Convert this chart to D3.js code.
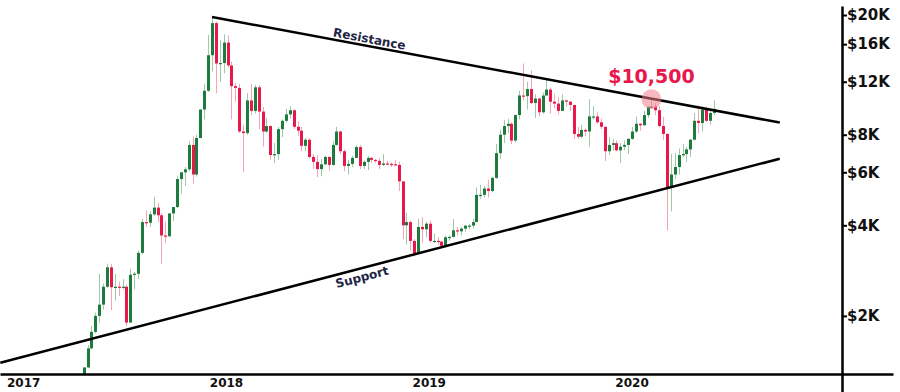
<!DOCTYPE html>
<html>
<head>
<meta charset="utf-8">
<script src="https://cdn.jsdelivr.net/npm/d3@7"></script>
<style>
  body { margin: 0; background: #fff; }
  svg { display: block; font-family: "DejaVu Sans", sans-serif; }
</style>
</head>
<body>
<svg id="chart" width="900" height="392"></svg>
<script>
// weekly candles, one row per week starting on monday: [open, high, low, close]
const firstWeek = new Date(Date.UTC(2017, 3, 24));

const ohlc2017 = [
  [1250, 1350, 1240, 1348], [1348, 1600, 1340, 1560], [1560, 1850, 1550, 1770], [1770, 2050, 1750, 2000],
  [2000, 2760, 1900, 2180], [2180, 2560, 2100, 2500], [2500, 2980, 2480, 2900], [2900, 2980, 2090, 2490],
  [2490, 2760, 2250, 2500], [2500, 2600, 2330, 2480], [2480, 2650, 2450, 2500], [2500, 2540, 1850, 1900],
  [1900, 2870, 1900, 2740], [2740, 2800, 2450, 2760], [2760, 3300, 2650, 3240], [3240, 4200, 3200, 4100],
  [4100, 4480, 3950, 4080], [4080, 4460, 3950, 4350], [4350, 4980, 4300, 4580], [4580, 4750, 4100, 4320],
  [4320, 4400, 2980, 3700], [3700, 4120, 3500, 3680], [3680, 4380, 3650, 4380], [4380, 4600, 4130, 4600],
  [4600, 5860, 4560, 5700], [5700, 6000, 5100, 6000], [6000, 6250, 5400, 6140], [6140, 7600, 6050, 7400],
  [7400, 7890, 5500, 5900], [5900, 8000, 5800, 7800], [7800, 9740, 7800, 9700], [9700, 11800, 9000, 11200],
  [11200, 17170, 11100, 14700], [14700, 19666, 13000, 18800], [18800, 19000, 11000, 13800], [13800, 16500, 12000, 13850]
];

const ohlc2018 = [
  [13850, 17250, 12800, 16200], [16200, 17100, 13400, 13600], [13600, 14000, 9000, 11600], [11600, 11900, 10300, 11450],
  [11450, 11800, 8100, 8200], [8200, 8600, 6000, 8100], [8100, 11000, 8000, 10400], [10400, 11800, 9300, 9600],
  [9600, 11700, 9400, 11500], [11500, 11700, 8350, 9550], [9550, 9900, 7300, 8200], [8200, 9100, 8100, 8550],
  [8550, 8600, 6600, 6850], [6850, 7500, 6450, 6900], [6900, 8500, 6600, 8350], [8350, 9000, 7850, 8900],
  [8900, 9750, 8800, 9350], [9350, 9950, 9050, 9650], [9650, 9700, 8350, 8500], [8500, 8850, 7950, 8250],
  [8250, 8500, 7050, 7350], [7350, 7800, 7050, 7700], [7700, 7780, 6650, 6750], [6750, 6900, 6150, 6500],
  [6500, 6850, 5780, 6150], [6150, 6650, 5820, 6380], [6380, 6830, 6350, 6750], [6750, 6780, 6070, 6350],
  [6350, 7600, 6300, 7400], [7400, 8500, 7350, 8200], [8200, 8250, 6900, 7050], [7050, 7150, 6050, 6300],
  [6300, 6600, 5900, 6400], [6400, 6800, 6250, 6700], [6700, 7400, 6700, 7280], [7280, 7400, 6150, 6300],
  [6300, 6580, 6150, 6500], [6500, 6800, 6100, 6700], [6700, 6750, 6450, 6600], [6600, 6650, 6450, 6550],
  [6550, 6700, 6150, 6350], [6350, 6900, 6300, 6420], [6420, 6550, 6350, 6400], [6400, 6480, 6250, 6380],
  [6380, 6600, 6350, 6350], [6350, 6500, 5200, 5600], [5600, 5600, 3600, 4000], [4000, 4400, 3450, 4100],
  [4100, 4150, 3300, 3550], [3550, 3600, 3150, 3220], [3220, 4200, 3200, 3950], [3950, 4250, 3500, 3880],
  [3880, 4100, 3650, 4050]
];

const ohlc2019 = [
  [4050, 4150, 3500, 3550], [3550, 3750, 3500, 3550], [3550, 3650, 3450, 3530], [3530, 3550, 3350, 3420],
  [3420, 3700, 3380, 3650], [3650, 3700, 3550, 3660], [3660, 4200, 3650, 3850], [3850, 3950, 3700, 3820],
  [3820, 3950, 3700, 3900], [3900, 4000, 3800, 3990], [3990, 4050, 3880, 3990], [3990, 4200, 3900, 4100],
  [4100, 5350, 4100, 5050], [5050, 5450, 4900, 5050], [5050, 5400, 4950, 5300], [5300, 5650, 4950, 5200],
  [5200, 5800, 5150, 5750], [5750, 7450, 5700, 6950], [6950, 8300, 6650, 8000], [8000, 8950, 7500, 8550],
  [8550, 9050, 8100, 8700], [8700, 8800, 7450, 7650], [7650, 9350, 7550, 9300], [9300, 11200, 9000, 10800],
  [10800, 13800, 10400, 10750], [10750, 12000, 9700, 11350], [11350, 13100, 10100, 10200], [10200, 10900, 9100, 10550],
  [10550, 10650, 9200, 9500], [9500, 11050, 9400, 10800], [10800, 12300, 10800, 11300], [11300, 11500, 9400, 10300],
  [10300, 10950, 9800, 10150], [10150, 10650, 9350, 9600], [9600, 10900, 9600, 10400], [10400, 10450, 9900, 10300],
  [10300, 10350, 9600, 10050], [10050, 10050, 7750, 8050], [8050, 8500, 7750, 7880], [7880, 8650, 7800, 8300],
  [8300, 8400, 7900, 8200], [8200, 10500, 7300, 9200], [9200, 9950, 9000, 9200], [9200, 9500, 8700, 8800],
  [8800, 9050, 8350, 8500], [8500, 8500, 6550, 7050], [7050, 7850, 6850, 7400], [7400, 7750, 7100, 7500],
  [7500, 7650, 7050, 7100], [7100, 7500, 6450, 7300], [7300, 7650, 7100, 7400], [7400, 7800, 6900, 7750]
];

const ohlc2020 = [
  [7750, 8500, 7700, 8200], [8200, 9200, 8100, 8700], [8700, 8750, 8250, 8600], [8600, 9600, 8550, 9300],
  [9300, 9950, 9100, 9900], [9900, 10500, 9800, 9920], [9920, 10200, 9300, 9650], [9650, 9950, 8450, 8550],
  [8550, 9180, 7700, 8050], [8050, 8100, 3850, 5350], [5350, 6900, 4450, 5900], [5900, 6950, 5700, 6250],
  [6250, 7200, 5900, 6850], [6850, 7450, 6750, 6900], [6900, 7300, 6500, 7150], [7150, 7750, 6750, 7700],
  [7700, 9450, 7650, 8900], [8900, 10000, 8100, 8750], [8750, 9950, 8200, 9700], [9700, 9900, 8800, 8900],
  [8900, 9750, 8650, 9450], [9450, 10400, 9300, 9750]
];

const priceTicks = [2000, 4000, 6000, 8000, 12000, 16000, 20000];
const yearTicks = [2017, 2018, 2019, 2020];

// trend lines as [date, price] end points
const resistance = [[Date.UTC(2017, 11, 14), 19700], [Date.UTC(2020, 9, 1), 8780]];
const support = [[Date.UTC(2016, 10, 28), 1397], [Date.UTC(2020, 9, 1), 6660]];
const resistanceLabelDate = Date.UTC(2018, 8, 21);
const supportLabelDate = Date.UTC(2018, 8, 6);

const touch = { date: Date.UTC(2020, 1, 13), price: 10500, label: "$10,500" };

const green = "#1e7b3e", greenWick = "#9ccaa7";
const red = "#e8184c", redWick = "#f5a3b6";
const ink = "#1f2544";

const candles = [].concat(ohlc2017, ohlc2018, ohlc2019, ohlc2020).map((d, i) => ({
  date: d3.utcDay.offset(d3.utcMonday.offset(firstWeek, i), 3),
  open: d[0], high: d[1], low: d[2], close: d[3]
}));

const svg = d3.select("#chart");

const x = d3.scaleUtc()
  .domain([Date.UTC(2017, 11, 14), Date.UTC(2020, 2, 12)])
  .range([212, 667]);

const y = d3.scaleLog()
  .domain([1282, 20000])
  .range([374, 15]);

svg.append("clipPath").attr("id", "plot-clip")
  .append("rect").attr("x", 0).attr("y", 0).attr("width", 842).attr("height", 374);

const plot = svg.append("g").attr("clip-path", "url(#plot-clip)");

const candle = plot.selectAll("g.candle")
  .data(candles)
  .join("g")
  .attr("class", "candle");

candle.append("line")
  .attr("x1", d => Math.round(x(d.date)) + 0.5)
  .attr("x2", d => Math.round(x(d.date)) + 0.5)
  .attr("y1", d => y(d.high))
  .attr("y2", d => y(d.low))
  .attr("stroke", d => d.close >= d.open ? greenWick : redWick)
  .attr("stroke-width", 1);

candle.append("rect")
  .attr("x", d => Math.round(x(d.date)) - 1)
  .attr("width", 3)
  .attr("y", d => y(Math.max(d.open, d.close)))
  .attr("height", d => Math.max(1.2, Math.abs(y(d.open) - y(d.close))))
  .attr("fill", d => d.close >= d.open ? green : red);

// trend lines
const line = d3.line().x(d => x(d[0])).y(d => y(d[1]));

[resistance, support].forEach(pts => {
  plot.append("path")
    .attr("d", line(pts))
    .attr("fill", "none")
    .attr("stroke", "#000")
    .attr("stroke-width", 2.5);
});

function onLine(pts, date) {
  const x0 = x(pts[0][0]), x1 = x(pts[1][0]);
  const y0 = y(pts[0][1]), y1 = y(pts[1][1]);
  const t = (x(date) - x0) / (x1 - x0);
  return {
    x: x(date),
    y: y0 + t * (y1 - y0),
    angle: Math.atan2(y1 - y0, x1 - x0) * 180 / Math.PI
  };
}

const rp = onLine(resistance, resistanceLabelDate);
svg.append("text")
  .attr("transform", `translate(${rp.x},${rp.y}) rotate(${rp.angle})`)
  .attr("y", -3)
  .attr("text-anchor", "middle")
  .attr("font-size", 12)
  .attr("font-weight", "bold")
  .attr("fill", ink)
  .text("Resistance");

const sp = onLine(support, supportLabelDate);
svg.append("text")
  .attr("transform", `translate(${sp.x},${sp.y}) rotate(${sp.angle})`)
  .attr("y", 13)
  .attr("text-anchor", "middle")
  .attr("font-size", 12)
  .attr("font-weight", "bold")
  .attr("fill", ink)
  .text("Support");

// x axis
const xAxisScale = x.copy().domain([x.invert(0), x.invert(893)]).range([0, 893]);
const xAxis = svg.append("g")
  .attr("transform", "translate(0,374)")
  .call(d3.axisBottom(xAxisScale)
    .tickValues(yearTicks.map(yr => new Date(Date.UTC(yr, 0, 1))))
    .tickFormat(d3.utcFormat("%Y"))
    .tickSize(0)
    .tickSizeOuter(0)
    .tickPadding(4));
xAxis.select(".domain").attr("stroke", "#000").attr("stroke-width", 2.5);
xAxis.selectAll("text")
  .attr("dx", 4)
  .attr("font-family", "DejaVu Sans, sans-serif")
  .attr("font-size", 12)
  .attr("font-weight", "bold")
  .attr("fill", "#111");

// y axis
const yAxisScale = y.copy().domain([y.invert(6), y.invert(392)]).range([6, 392]);
const yAxis = svg.append("g")
  .attr("transform", "translate(842,0)")
  .call(d3.axisRight(yAxisScale)
    .tickValues(priceTicks)
    .tickFormat(v => "$" + v / 1000 + "K")
    .tickSize(5)
    .tickSizeOuter(0)
    .tickPadding(0));
yAxis.select(".domain").attr("stroke", "#000").attr("stroke-width", 2.5);
yAxis.selectAll(".tick line").attr("stroke", "#000").attr("stroke-width", 2);
yAxis.selectAll("text")
  .attr("font-family", "DejaVu Sans, sans-serif")
  .attr("font-size", 15)
  .attr("font-weight", "bold")
  .attr("fill", "#111");

// $10,500 touch point
svg.append("circle")
  .attr("cx", x(touch.date))
  .attr("cy", y(touch.price))
  .attr("r", 10)
  .attr("fill", "#f07d8c")
  .attr("fill-opacity", 0.55);

svg.append("text")
  .attr("x", x(touch.date))
  .attr("y", y(touch.price) - 16)
  .attr("text-anchor", "middle")
  .attr("font-size", 19)
  .attr("font-weight", "bold")
  .attr("fill", red)
  .text(touch.label);
</script>
</body>
</html>
